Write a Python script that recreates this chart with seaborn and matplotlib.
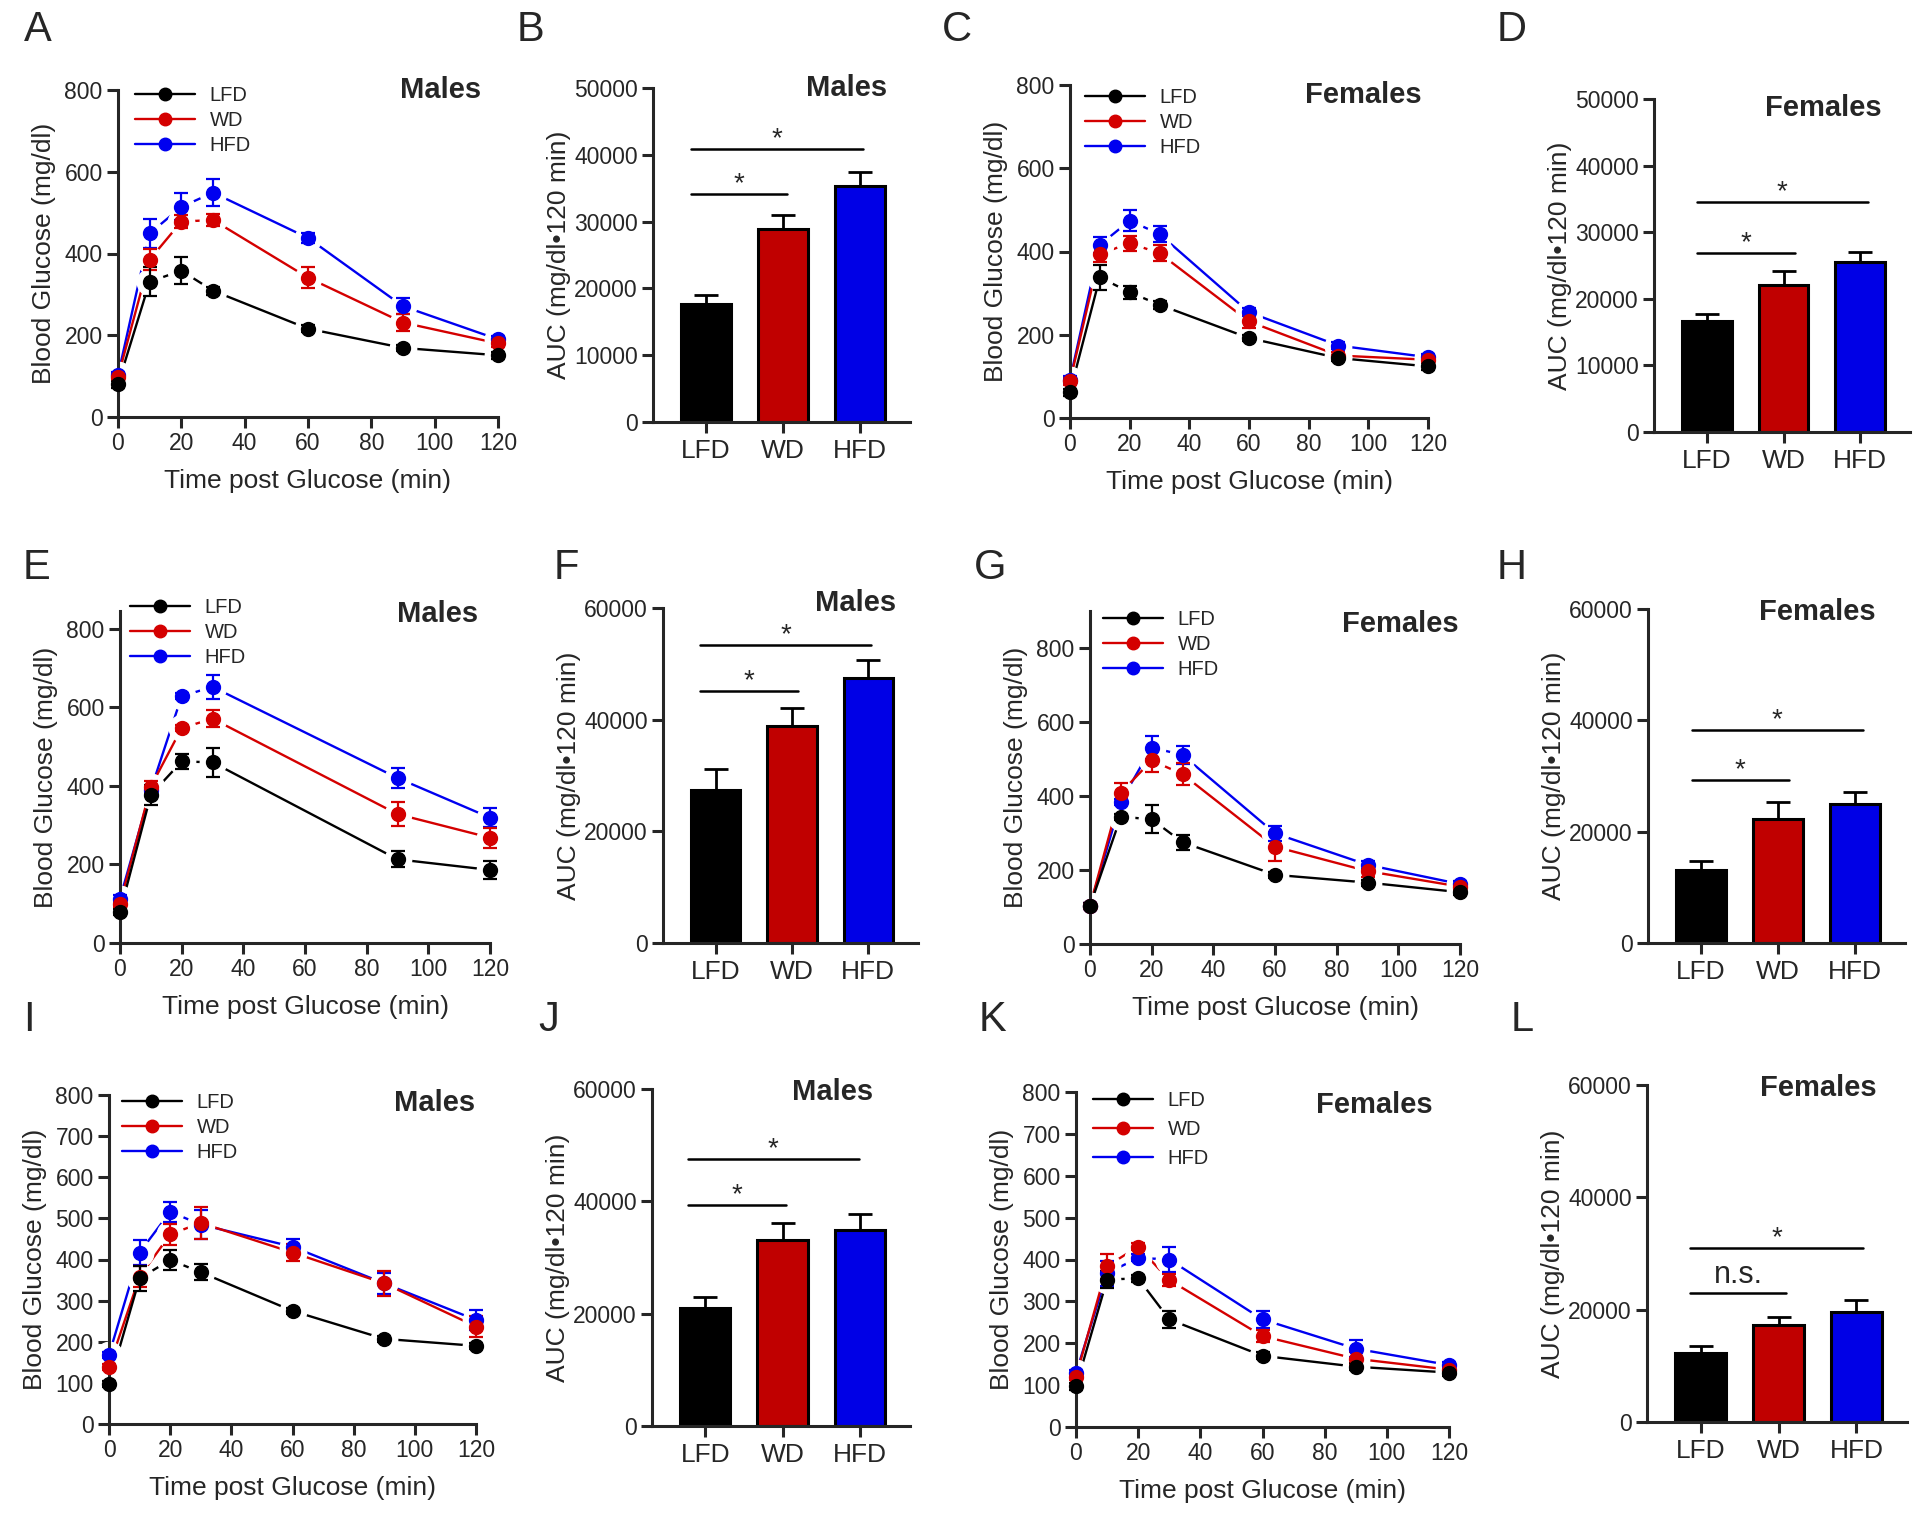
import pandas as pd
import matplotlib.pyplot as plt
from matplotlib.lines import Line2D
import seaborn as sns

sns.set_style('ticks')
plt.rcParams['font.family'] = ['Liberation Sans', 'DejaVu Sans']

diets = ['LFD', 'WD', 'HFD']
line_colors = {'LFD': 'black', 'WD': '#d40000', 'HFD': '#0000f0'}
bar_colors = ['black', '#c00000', '#0000e6']

times = [0, 10, 20, 30, 60, 90, 120]
times_e = [0, 10, 20, 30, 90, 120]

# --- glucose curves (mean, sem) ---
a_lfd = [80, 331, 358, 309, 216, 169, 151]
a_lfd_sem = [8, 35, 33, 10, 8, 8, 8]
a_wd = [98, 385, 478, 482, 341, 231, 180]
a_wd_sem = [8, 25, 15, 15, 25, 20, 8]
a_hfd = [102, 449, 514, 549, 438, 271, 190]
a_hfd_sem = [8, 36, 33, 33, 12, 20, 8]

c_lfd = [62, 338, 302, 272, 192, 144, 124]
c_lfd_sem = [8, 30, 15, 10, 8, 8, 8]
c_wd = [88, 394, 420, 396, 232, 150, 140]
c_wd_sem = [8, 20, 18, 20, 15, 8, 8]
c_hfd = [92, 416, 474, 442, 254, 174, 146]
c_hfd_sem = [8, 20, 25, 20, 10, 8, 8]

e_lfd = [79, 377, 462, 460, 213, 186]
e_lfd_sem = [8, 25, 20, 37, 20, 22]
e_wd = [100, 398, 547, 571, 328, 268]
e_wd_sem = [8, 15, 8, 22, 30, 25]
e_hfd = [113, 390, 628, 652, 420, 319]
e_hfd_sem = [8, 10, 8, 30, 25, 25]

g_lfd = [103, 344, 337, 275, 187, 166, 140]
g_lfd_sem = [8, 8, 38, 20, 8, 8, 8]
g_wd = [103, 409, 496, 459, 263, 197, 155]
g_wd_sem = [8, 25, 30, 30, 40, 15, 8]
g_hfd = [103, 385, 531, 511, 299, 214, 162]
g_hfd_sem = [8, 8, 30, 25, 20, 10, 8]

i_lfd = [97, 354, 399, 369, 275, 207, 190]
i_lfd_sem = [8, 30, 25, 20, 8, 8, 8]
i_wd = [139, 358, 461, 489, 417, 342, 237]
i_wd_sem = [8, 25, 25, 38, 20, 30, 25]
i_hfd = [168, 417, 516, 485, 431, 342, 253]
i_hfd_sem = [8, 30, 25, 35, 20, 25, 25]

k_lfd = [97, 352, 355, 257, 170, 144, 130]
k_lfd_sem = [8, 20, 8, 20, 8, 8, 8]
k_wd = [120, 384, 431, 351, 217, 163, 137]
k_wd_sem = [8, 30, 8, 15, 15, 15, 8]
k_hfd = [129, 367, 404, 400, 257, 187, 148]
k_hfd_sem = [8, 30, 8, 30, 20, 20, 8]

# --- AUC bars (mean, sem) ---
b_auc = [17700, 28900, 35300]
b_sem = [1300, 2100, 2100]
d_auc = [16600, 22100, 25500]
d_sem = [1100, 2000, 1500]
f_auc = [27400, 38950, 47440]
f_sem = [3700, 3220, 3160]
h_auc = [13170, 22280, 24970]
h_sem = [1500, 3050, 2160]
j_auc = [21090, 33200, 34870]
j_sem = [1900, 2970, 2850]
l_auc = [12270, 17200, 19510]
l_sem = [1310, 1480, 2250]

# significance brackets: (start, end, height, label)
b_sig = [(-0.2, 1.05, 34100, '*'), (-0.2, 2.04, 40900, '*')]
d_sig = [(-0.13, 1.15, 26850, '*'), (-0.13, 2.1, 34500, '*')]
f_sig = [(-0.2, 1.08, 45160, '*'), (-0.2, 2.04, 53420, '*')]
h_sig = [(-0.12, 1.14, 29340, '*'), (-0.12, 2.1, 38320, '*')]
j_sig = [(-0.23, 1.04, 39320, '*'), (-0.23, 1.99, 47520, '*')]
l_sig = [(-0.14, 1.1, 22950, 'n.s.'), (-0.14, 2.09, 30950, '*')]

W, H = 1920, 1515
fig = plt.figure(figsize=(W / 100, H / 100), dpi=100)


def add_axes(left, right, y0, ytop):
    return fig.add_axes([left / W, 1 - y0 / H, (right - left) / W, (y0 - ytop) / H])


def style(ax):
    sns.despine(ax=ax)
    for s in ['left', 'bottom']:
        ax.spines[s].set_linewidth(2.2)
    ax.tick_params(width=2.2, length=8, labelsize=16.5, pad=3)


def gtt_panel(box, t, series, title, title_xy, leg_xy, leg_space, ystep):
    left, right, y0, ytop, ymax = box
    ax = add_axes(left, right, y0, ytop)
    order = ['HFD', 'WD', 'LFD']
    for d in order:
        sns.lineplot(x=t, y=series[d][0], color=line_colors[d], lw=1.7,
                     errorbar=None, ax=ax, clip_on=False, zorder=2)
    # white halo so the lines stop short of the markers
    for d in order:
        ax.plot(t, series[d][0], 'o', ms=19, color='white', zorder=2.2, clip_on=False)
    for d in order:
        mean, sem = series[d]
        ax.errorbar(t, mean, yerr=sem, fmt='o', ms=10, color=line_colors[d],
                    elinewidth=1.6, capsize=4.7, capthick=1.6, zorder=4, clip_on=False)
    ax.set_xlim(0, 120)
    ax.set_ylim(0, ymax)
    ax.set_xticks(range(0, 121, 20))
    ax.set_yticks(range(0, 801, ystep))
    style(ax)
    ax.set_xlabel('Time post Glucose (min)', fontsize=19, labelpad=10)
    ax.set_ylabel('Blood Glucose (mg/dl)', fontsize=19, labelpad=6)
    ax.text(title_xy[0], title_xy[1], title, transform=ax.transAxes, ha='center',
            va='center', fontsize=21, fontweight='bold')
    handles = [Line2D([], [], color=line_colors[d], marker='o', ms=9, lw=1.7) for d in diets]
    ax.legend(handles, diets, loc='upper left', bbox_to_anchor=(leg_xy[0] / W, 1 - leg_xy[1] / H),
              bbox_transform=fig.transFigure, frameon=False, fontsize=14.5, handlelength=3.0,
              handletextpad=0.7, labelspacing=leg_space, borderpad=0, borderaxespad=0)
    return ax


def auc_panel(box, vals, sems, title, title_xy, sig, ystep):
    left, right, y0, ytop, ymax = box
    ax = add_axes(left, right, y0, ytop)
    df = pd.DataFrame({'diet': diets, 'auc': vals})
    sns.barplot(data=df, x='diet', y='auc', hue='diet', palette=bar_colors, edgecolor='black',
                linewidth=2.2, width=0.65, saturation=1, errorbar=None, legend=False, ax=ax)
    ax.errorbar(range(3), vals, yerr=[[0, 0, 0], sems], fmt='none', ecolor='black',
                elinewidth=2, capsize=8.3, capthick=2, zorder=3)
    for x0, x1, y, lab in sig:
        ax.plot([x0, x1], [y, y], color='black', lw=1.8)
        off = 7 if lab != '*' else 2
        ax.annotate(lab, xy=((x0 + x1) / 2, y), xytext=(0, off), textcoords='offset points',
                    ha='center', va='baseline', fontsize=22 if lab != '*' else 20)
    ax.set_xlim(-0.69, 2.65)
    ax.set_ylim(0, ymax)
    ax.set_yticks(range(0, ymax + 1, ystep))
    style(ax)
    ax.tick_params(axis='x', labelsize=19, pad=4)
    ax.set_xlabel('')
    ax.set_ylabel('AUC (mg/dl\u2022120 min)', fontsize=19, labelpad=2)
    ax.text(title_xy[0], title_xy[1], title, transform=ax.transAxes, ha='center',
            va='center', fontsize=21, fontweight='bold')
    return ax


gtt_panel((118, 498, 417, 90, 800), times,
          {'LFD': (a_lfd, a_lfd_sem), 'WD': (a_wd, a_wd_sem), 'HFD': (a_hfd, a_hfd_sem)},
          'Males', (0.85, 1.0), (135, 86), 0.3, 200)
auc_panel((653, 910, 422, 88, 50000), b_auc, b_sem, 'Males', (0.755, 1.0), b_sig, 10000)
gtt_panel((1070, 1428, 418, 85, 800), times,
          {'LFD': (c_lfd, c_lfd_sem), 'WD': (c_wd, c_wd_sem), 'HFD': (c_hfd, c_hfd_sem)},
          'Females', (0.82, 0.97), (1085, 88), 0.3, 200)
auc_panel((1654, 1910, 432, 99, 50000), d_auc, d_sem, 'Females', (0.66, 0.973), d_sig, 10000)

gtt_panel((120, 490, 943, 611, 845), times_e,
          {'LFD': (e_lfd, e_lfd_sem), 'WD': (e_wd, e_wd_sem), 'HFD': (e_hfd, e_hfd_sem)},
          'Males', (0.857, 0.99), (130, 598), 0.3, 200)
auc_panel((663, 918, 943, 608, 60000), f_auc, f_sem, 'Males', (0.757, 1.015), f_sig, 20000)
gtt_panel((1090, 1460, 944, 611, 900), times,
          {'LFD': (g_lfd, g_lfd_sem), 'WD': (g_wd, g_wd_sem), 'HFD': (g_hfd, g_hfd_sem)},
          'Females', (0.84, 0.96), (1103, 610), 0.3, 200)
auc_panel((1648, 1905, 943, 609, 60000), h_auc, h_sem, 'Females', (0.66, 0.99), h_sig, 20000)

gtt_panel((109, 476, 1424, 1095, 800), times,
          {'LFD': (i_lfd, i_lfd_sem), 'WD': (i_wd, i_wd_sem), 'HFD': (i_hfd, i_hfd_sem)},
          'Males', (0.886, 0.976), (122, 1093), 0.3, 100)
auc_panel((652, 910, 1426, 1089, 60000), j_auc, j_sem, 'Males', (0.70, 0.99), j_sig, 20000)
gtt_panel((1076, 1449, 1427, 1092, 800), times,
          {'LFD': (k_lfd, k_lfd_sem), 'WD': (k_wd, k_wd_sem), 'HFD': (k_hfd, k_hfd_sem)},
          'Females', (0.80, 0.96), (1093, 1091), 0.5, 100)
auc_panel((1647, 1907, 1422, 1085, 60000), l_auc, l_sem, 'Females', (0.66, 0.99), l_sig, 20000)

letters = ['A', 'B', 'C', 'D', 'E', 'F', 'G', 'H', 'I', 'J', 'K', 'L']
letter_xy = [(38, 30), (531, 30), (957, 30), (1512, 30),
             (37, 568), (566, 568), (990, 568), (1512, 568),
             (29, 1020), (549, 1020), (992, 1020), (1522, 1020)]
for lab, (x, y) in zip(letters, letter_xy):
    fig.text(x / W, 1 - y / H, lab, fontsize=30, ha='center', va='center')

plt.savefig('out.png', dpi=100)
